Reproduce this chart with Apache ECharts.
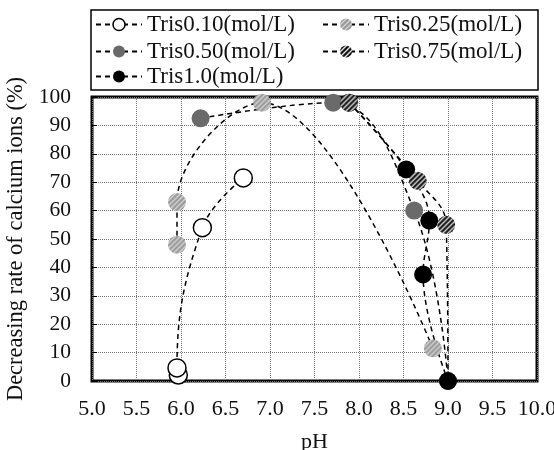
<!DOCTYPE html>
<html>
<head>
<meta charset="utf-8">
<script src="https://cdn.jsdelivr.net/npm/echarts@6/dist/echarts.min.js"></script>
<style>
  html, body { margin: 0; padding: 0; background: #fff; }
  #chart { width: 554px; height: 450px; }
</style>
</head>
<body>
<div id="chart"></div>
<script>
const seriesNames = ['Tris0.10(mol/L)', 'Tris0.25(mol/L)', 'Tris0.50(mol/L)', 'Tris0.75(mol/L)', 'Tris1.0(mol/L)']

const pH010 = [5.97, 5.955, 6.24, 6.70]
const rate010 = [2.1, 4.6, 54, 71.5]
const pH025 = [5.955, 5.955, 6.91, 8.83]
const rate025 = [48, 63, 98, 11.5]
const pH050 = [6.22, 7.71, 8.62, 9.0]
const rate050 = [92.5, 98, 60, 0]
const pH075 = [7.89, 8.66, 8.98, 9.0]
const rate075 = [98, 70.5, 55, 0]
const pH100 = [7.89, 8.53, 8.79, 8.72, 9.0]
const rate100 = [98, 74.5, 56.5, 37.5, 0]

const xTicks = [5, 10, 0.5]
const yTicks = [0, 100, 10]

const font = '"Liberation Serif", "Times New Roman", serif'
const SYMBOL = 18

// diagonal hatch tile; scale undoes the symbol's own scaling (symbols are drawn at size 2 then scaled)
function hatch(base, stripe, scale) {
  const c = document.createElement('canvas')
  c.width = c.height = 5
  const g = c.getContext('2d')
  g.fillStyle = base
  g.fillRect(0, 0, 5, 5)
  g.strokeStyle = stripe
  g.lineWidth = 1.3
  g.beginPath()
  g.moveTo(0, 5); g.lineTo(5, 0)
  g.moveTo(-1, 1); g.lineTo(1, -1)
  g.moveTo(4, 6); g.lineTo(6, 4)
  g.stroke()
  return { image: c, repeat: 'repeat', scaleX: scale, scaleY: scale }
}

const pairs = (xs, ys) => xs.map((x, i) => [x, ys[i]])

const fills = {
  'Tris0.10(mol/L)': (s) => '#fff',
  'Tris0.25(mol/L)': (s) => hatch('#9a9a9a', '#d6d6d6', s),
  'Tris0.50(mol/L)': (s) => '#6a6a6a',
  'Tris0.75(mol/L)': (s) => hatch('#111', '#e8e8e8', s),
  'Tris1.0(mol/L)': (s) => '#000',
}

function itemStyle(name, s) {
  const st = { color: fills[name](s), borderWidth: 0 }
  if (name === 'Tris0.10(mol/L)') Object.assign(st, { borderColor: '#000', borderWidth: 1.5 })
  return st
}

function makeSeries(name, data) {
  return {
    name,
    type: 'line',
    data,
    smooth: 0.4,
    symbol: 'circle',
    symbolSize: SYMBOL,
    showAllSymbol: true,
    lineStyle: { color: '#000', width: 1.5, type: [5, 4] },
    itemStyle: itemStyle(name, 2 / SYMBOL),
    emphasis: { disabled: true },
  }
}

const d075 = pairs(pH075, rate075)
d075[d075.length - 1] = { value: d075[d075.length - 1], symbol: 'none' }

const chart = echarts.init(document.getElementById('chart'), null, { renderer: 'canvas' })

const legendBase = {
  padding: 0,
  itemGap: 27,
  itemWidth: 46,
  itemHeight: 15,
  textStyle: { fontFamily: font, fontSize: 23, color: '#111' },
  selectedMode: false,
}
const legendData = (names) => names.map((n) => ({ name: n, itemStyle: itemStyle(n, 1) }))

chart.setOption({
  animation: false,
  backgroundColor: '#fff',
  textStyle: { fontFamily: font },
  legend: [
    { ...legendBase, left: 95, top: 13, data: legendData(seriesNames.slice(0, 2)) },
    { ...legendBase, left: 95, top: 40, data: legendData(seriesNames.slice(2, 4)) },
    { ...legendBase, left: 95, top: 65, data: legendData(seriesNames.slice(4)) },
  ],
  graphic: [
    {
      type: 'rect',
      shape: { x: 91, y: 10, width: 447, height: 80 },
      style: { fill: 'none', stroke: '#000', lineWidth: 1.5 },
      silent: true,
    },
  ],
  grid: {
    left: 92, right: 17, top: 97, bottom: 69,
    outerBoundsMode: 'none',
    containLabel: false,
    show: true, borderColor: '#000', borderWidth: 3, backgroundColor: '#fff',
  },
  xAxis: {
    type: 'value',
    min: xTicks[0], max: xTicks[1], interval: xTicks[2],
    name: 'pH',
    nameLocation: 'middle',
    nameGap: 50,
    nameTextStyle: { fontFamily: font, fontSize: 22, color: '#111' },
    axisLine: { show: false },
    axisTick: { show: false },
    axisLabel: { fontFamily: font, fontSize: 22, color: '#111', margin: 17, formatter: (v) => v.toFixed(1) },
    splitLine: { show: true, lineStyle: { color: '#777', type: 'dotted', width: 1 } },
  },
  yAxis: {
    type: 'value',
    min: yTicks[0], max: yTicks[1], interval: yTicks[2],
    name: 'Decreasing rate of calcium ions (%)',
    nameLocation: 'middle',
    nameGap: 62,
    nameTextStyle: { fontFamily: font, fontSize: 22.5, color: '#111' },
    axisLine: { show: false },
    axisTick: { show: true, inside: true, length: 5, lineStyle: { color: '#000' } },
    axisLabel: { fontFamily: font, fontSize: 21.5, color: '#111', margin: 21 },
    splitLine: { show: true, lineStyle: { color: '#777', type: 'dotted', width: 1 } },
  },
  series: [
    makeSeries('Tris0.10(mol/L)', pairs(pH010, rate010)),
    makeSeries('Tris0.25(mol/L)', pairs(pH025, rate025)),
    makeSeries('Tris0.50(mol/L)', pairs(pH050, rate050)),
    makeSeries('Tris1.0(mol/L)', pairs(pH100, rate100)),
    makeSeries('Tris0.75(mol/L)', d075),
  ],
})
</script>
</body>
</html>
